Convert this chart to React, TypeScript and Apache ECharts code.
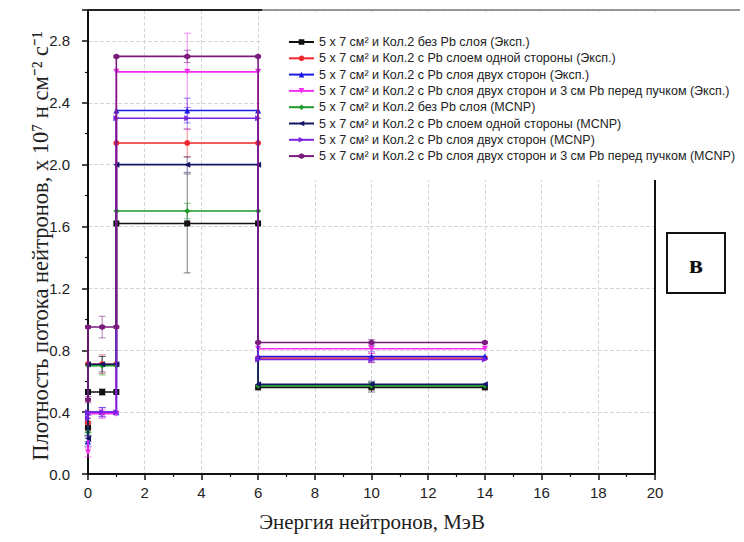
import React, { useEffect, useRef } from "react";
import * as echarts from "echarts";

const SERIES_NAMES = [
  "5 x 7 см² и Кол.2 без Pb слоя (Эксп.)",
  "5 x 7 см² и Кол.2 с Pb слоем одной стороны (Эксп.)",
  "5 x 7 см² и Кол.2 с Pb слоя двух сторон (Эксп.)",
  "5 x 7 см² и Кол.2 с Pb слоя двух сторон и 3 см Pb перед пучком (Эксп.)",
  "5 x 7 см² и Кол.2 без Pb слоя (MCNP)",
  "5 x 7 см² и Кол.2 с Pb слоем одной стороны (MCNP)",
  "5 x 7 см² и Кол.2 с Pb слоя двух сторон (MCNP)",
  "5 x 7 см² и Кол.2 с Pb слоя двух сторон и 3 см Pb перед пучком (MCNP)",
];

const X_NAME = "Энергия нейтронов, МэВ";
const Y_NAME = "Плотность потока нейтронов, х 10⁷ н см⁻² с⁻¹";
const PANEL_LABEL = "в";

// bin edges (MeV) and bin centres
const BIN_EDGES = [0, 1, 6, 14];
const BIN_CENTERS = [0.5, 3.5, 10];

// [value at ~0 MeV, bin 0-1, bin 1-6, bin 6-14]  (x 10^7 n cm^-2 s^-1)
const BLACK_EXP = [0.3, 0.53, 1.62, 0.56];
const RED_EXP = [0.33, 0.71, 2.14, 0.75];
const BLUE_EXP = [0.21, 0.4, 2.35, 0.76];
const MAGENTA_EXP = [0.14, 0.39, 2.6, 0.81];
const GREEN_MCNP = [0.27, 0.7, 1.7, 0.57];
const NAVY_MCNP = [0.23, 0.71, 2.0, 0.58];
const VIOLET_MCNP = [0.36, 0.4, 2.3, 0.74];
const PURPLE_MCNP = [0.48, 0.95, 2.7, 0.85];

const BLACK_ERR = [0.03, 0.02, 0.32, 0.03];
const RED_ERR = [0.03, 0.06, 0.09, 0.03];
const BLUE_ERR = [0.03, 0.03, 0.08, 0.03];
const MAGENTA_ERR = [0.03, 0.03, 0.25, 0.03];
const GREEN_ERR = [0.02, 0.06, 0.05, 0.02];
const NAVY_ERR = [0.02, 0.05, 0.05, 0.02];
const VIOLET_ERR = [0.02, 0.03, 0.07, 0.02];
const PURPLE_ERR = [0.02, 0.07, 0.04, 0.02];

const VALUES = [BLACK_EXP, RED_EXP, BLUE_EXP, MAGENTA_EXP, GREEN_MCNP, NAVY_MCNP, VIOLET_MCNP, PURPLE_MCNP];
const ERRORS = [BLACK_ERR, RED_ERR, BLUE_ERR, MAGENTA_ERR, GREEN_ERR, NAVY_ERR, VIOLET_ERR, PURPLE_ERR];

const X_TICKS = [0, 2, 4, 6, 8, 10, 12, 14, 16, 18, 20];
const Y_TICKS = [0, 0.4, 0.8, 1.2, 1.6, 2.0, 2.4, 2.8];

const COLORS = ["#111111", "#f0282d", "#1a1ae6", "#f030f0", "#1e9a2a", "#141466", "#7a22e0", "#7a1a7c"];
const SYMBOLS = [
  "rect",
  "circle",
  "triangle",
  "path://M0,0 L10,0 L5,10 Z",
  "diamond",
  "path://M10,0 L10,10 L0,5 Z",
  "path://M0,0 L0,10 L10,5 Z",
  "path://M5,0 L9.33,2.5 L9.33,7.5 L5,10 L0.67,7.5 L0.67,2.5 Z",
];

function stepData(v: number[]) {
  const [e0, e1, e2, e3] = BIN_EDGES;
  const [c1, c2, c3] = BIN_CENTERS;
  return [
    [e0, v[0]],
    [e0, v[1]],
    [c1, v[1]],
    [e1, v[1]],
    [e1, v[2]],
    [c2, v[2]],
    [e2, v[2]],
    [e2, v[3]],
    [c3, v[3]],
    [e3, v[3]],
  ];
}

function errData(v: number[], e: number[]) {
  const xs = [BIN_EDGES[0], ...BIN_CENTERS];
  return xs.map((x, i) => [x, v[i], e[i]]);
}

export default function App() {
  const ref = useRef<HTMLDivElement>(null);
  useEffect(() => {
    if (!ref.current) return;
    const chart = echarts.init(ref.current, null, { renderer: "svg" });
    const lineSeries = SERIES_NAMES.map((name, i) => ({
      name,
      type: "line",
      data: stepData(VALUES[i]),
      symbol: SYMBOLS[i],
      symbolSize: 6,
      showSymbol: true,
      lineStyle: { color: COLORS[i], width: 1.6 },
      itemStyle: { color: COLORS[i] },
      z: 3 + i * 0.01,
    }));
    const errSeries = SERIES_NAMES.map((name, i) => ({
      type: "custom",
      data: errData(VALUES[i], ERRORS[i]),
      encode: { x: 0, y: 1 },
      z: 2,
      renderItem: (params: any, api: any) => {
        const x = api.value(0);
        const y = api.value(1);
        const e = api.value(2);
        const top = api.coord([x, y + e]);
        const bot = api.coord([x, y - e]);
        const style = { stroke: COLORS[i], lineWidth: 1, opacity: 0.55 };
        return {
          type: "group",
          children: [
            { type: "line", shape: { x1: top[0], y1: top[1], x2: bot[0], y2: bot[1] }, style },
            { type: "line", shape: { x1: top[0] - 3.5, y1: top[1], x2: top[0] + 3.5, y2: top[1] }, style },
            { type: "line", shape: { x1: bot[0] - 3.5, y1: bot[1], x2: bot[0] + 3.5, y2: bot[1] }, style },
          ],
        };
      },
    }));
    const option: any = {
      animation: false,
      backgroundColor: "#ffffff",
      grid: { left: 88, right: 89, top: 10, bottom: 68 },
      legend: {
        orient: "vertical",
        left: 262,
        top: 12,
        padding: [22, 4, 16, 26],
        itemWidth: 25,
        itemHeight: 7,
        itemGap: 0.3,
        data: SERIES_NAMES,
        z: 10,
        textStyle: { fontFamily: "Liberation Sans", fontSize: 12.5, color: "#222", lineHeight: 16 },
      },
      xAxis: {
        type: "value",
        min: X_TICKS[0],
        max: X_TICKS[X_TICKS.length - 1],
        interval: 2,
        axisLine: { lineStyle: { color: "#111", width: 2 } },
        axisTick: { inside: false, length: 6, lineStyle: { color: "#111", width: 1.5 } },
        minorTick: { show: true, splitNumber: 2, length: 3, lineStyle: { color: "#111", width: 1.2 } },
        axisLabel: { fontFamily: "Liberation Sans", fontSize: 15, color: "#222", margin: 11 },
        splitLine: { show: true, lineStyle: { color: "#d6d6d6", type: "dashed", width: 1 } },
      },
      yAxis: {
        type: "value",
        min: 0,
        max: 3.0,
        interval: 0.4,
        axisLine: { show: true, lineStyle: { color: "#111", width: 2 } },
        axisTick: { show: true, inside: false, length: 6, lineStyle: { color: "#111", width: 1.5 } },
        minorTick: { show: true, splitNumber: 2, length: 3, lineStyle: { color: "#111", width: 1.2 } },
        axisLabel: {
          fontFamily: "Liberation Sans",
          fontSize: 15,
          color: "#222",
          margin: 18,
          formatter: (v: number) => (Y_TICKS.some((t) => Math.abs(t - v) < 1e-6) ? v.toFixed(1) : ""),
        },
        splitLine: { show: true, lineStyle: { color: "#d6d6d6", type: "dashed", width: 1 } },
      },
      graphic: [
        { type: "rect", z: 5, shape: { x: 262, y: 12, width: 482, height: 168 }, style: { fill: "#ffffff" } },
        { type: "line", z: 6, shape: { x1: 88, y1: 10, x2: 262, y2: 10 }, style: { stroke: "#222", lineWidth: 2 } },
        { type: "line", z: 6, shape: { x1: 262, y1: 10, x2: 740, y2: 10 }, style: { stroke: "#777", lineWidth: 1.5 } },
        { type: "line", z: 6, shape: { x1: 655, y1: 180, x2: 655, y2: 475 }, style: { stroke: "#111", lineWidth: 2 } },
        {
          type: "rect",
          z: 6,
          shape: { x: 667, y: 233, width: 58, height: 60 },
          style: { fill: "#ffffff", stroke: "#111", lineWidth: 2 },
        },
        {
          type: "text",
          z: 7,
          x: 696,
          y: 264,
          style: {
            text: PANEL_LABEL,
            fontFamily: "Liberation Serif",
            fontWeight: "bold",
            fontSize: 26,
            fill: "#111",
            align: "center",
            verticalAlign: "middle",
          },
        },
        {
          type: "text",
          z: 7,
          x: 372,
          y: 522,
          style: {
            text: X_NAME,
            fontFamily: "Liberation Serif",
            fontSize: 21,
            fill: "#222",
            align: "center",
            verticalAlign: "middle",
          },
        },
        {
          type: "text",
          z: 7,
          x: 40,
          y: 246,
          rotation: Math.PI / 2,
          style: {
            text: Y_NAME,
            fontFamily: "Liberation Serif",
            fontSize: 22.5,
            fill: "#222",
            align: "center",
            verticalAlign: "middle",
          },
        },
      ],
      series: [...errSeries, ...lineSeries],
    };
    chart.setOption(option);
    return () => chart.dispose();
  }, []);
  return <div ref={ref} style={{ position: "fixed", left: 0, top: 0, width: 744, height: 542 }} />;
}
